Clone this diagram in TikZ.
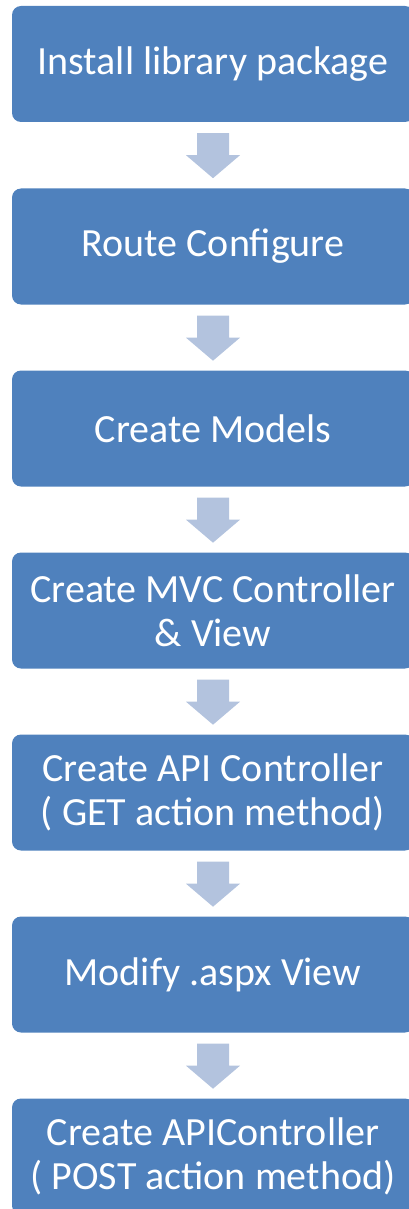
\documentclass[tikz,border=0pt]{standalone}
\usepackage{fontspec}
\setmainfont{Carlito}
\usetikzlibrary{calc}
\definecolor{boxblue}{HTML}{4F81BD}
\definecolor{arrowblue}{HTML}{B3C3DE}
\tikzset{
  stepbox/.style={draw=none, fill=boxblue, rounded corners=9pt, minimum width=402pt, minimum height=116pt,
    inner sep=0pt, text=white, align=center, font=\fontsize{40pt}{44pt}\selectfont},
  flowarrow/.style={fill=arrowblue, draw=none}
}
\newcommand{\downarrowshape}[1]{%
  \fill[flowarrow] ($(#1)+(-16pt,-11pt)$) -- ($(#1)+(16pt,-11pt)$) -- ($(#1)+(16pt,-33pt)$) -- ($(#1)+(27pt,-33pt)$)
    -- ($(#1)+(0pt,-56pt)$) -- ($(#1)+(-27pt,-33pt)$) -- ($(#1)+(-16pt,-33pt)$) -- cycle;}
\begin{document}
\begin{tikzpicture}[x=1pt,y=1pt]
\useasboundingbox (0,0) rectangle (408,-1209);
\node[stepbox] (b1) at (213,-64) {Install library package};
\node[stepbox] (b2) at (213,-246.5) {Route Configure};
\node[stepbox] (b3) at (213,-428.5) {Create Models};
\node[stepbox] (b4) at (213,-610.5) {Create MVC Controller\\\& View};
\node[stepbox] (b5) at (213,-792.5) {Create API Controller\\( GET action method)};
\node[stepbox] (b6) at (213,-974.5) {Modify .aspx View};
\node[stepbox] (b7) at (213,-1156.5) {Create APIController\\( POST action method)};
\coordinate (a1) at (b1.south);
\coordinate (a2) at (b2.south);
\coordinate (a3) at (b3.south);
\coordinate (a4) at (b4.south);
\coordinate (a5) at (b5.south);
\coordinate (a6) at (b6.south);
\downarrowshape{a1}
\downarrowshape{a2}
\downarrowshape{a3}
\downarrowshape{a4}
\downarrowshape{a5}
\downarrowshape{a6}
\end{tikzpicture}
\end{document}
